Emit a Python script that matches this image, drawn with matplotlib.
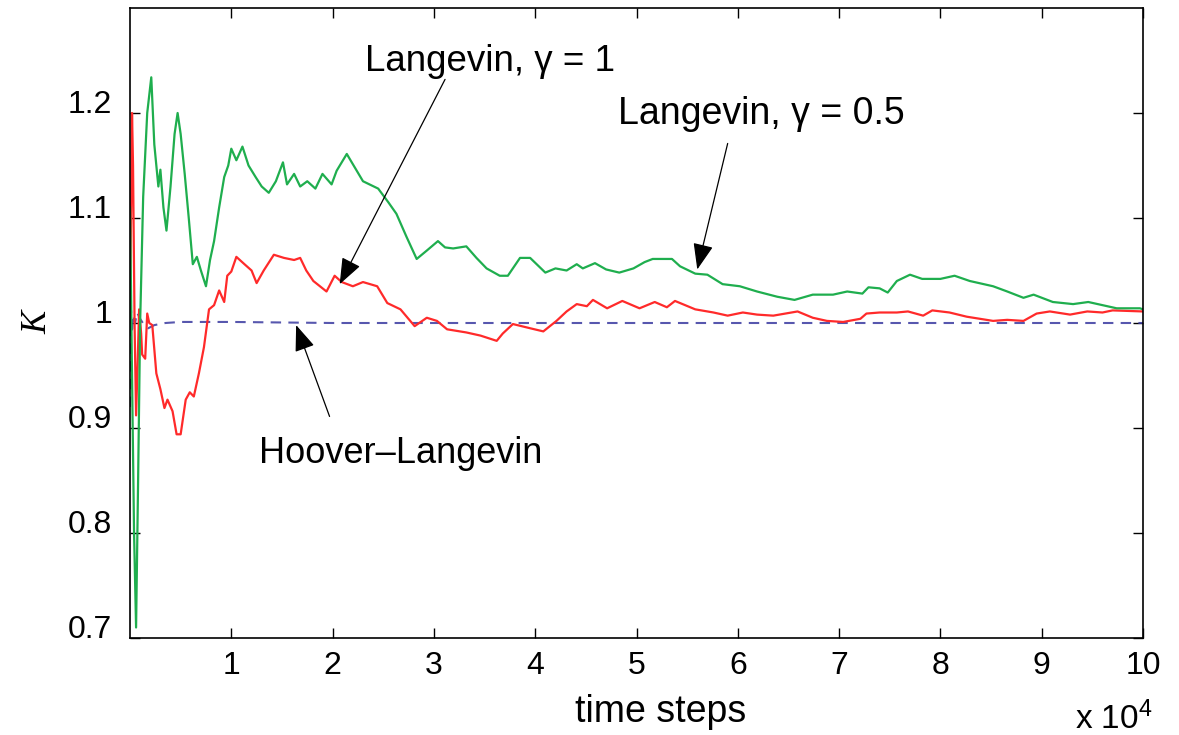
import matplotlib
matplotlib.use("Agg")
import matplotlib.pyplot as plt
import numpy as np

plt.rcParams['font.family'] = ['Liberation Sans', 'DejaVu Sans']
plt.rcParams['mathtext.default'] = 'regular'

# time steps in units of 1e4, kinetic temperature K
green_x = [0.00, 0.02, 0.04, 0.06, 0.08, 0.10, 0.13, 0.17, 0.21, 0.24, 0.26, 0.28, 0.30, 0.33,
           0.36, 0.40, 0.44, 0.47, 0.50, 0.54, 0.58, 0.62, 0.66, 0.70, 0.75, 0.79, 0.83, 0.88,
           0.93, 0.97, 1.00, 1.05, 1.11, 1.17, 1.24, 1.30, 1.37, 1.44, 1.51, 1.55, 1.62, 1.68,
           1.75, 1.83, 1.90, 1.99, 2.04, 2.14, 2.22, 2.30, 2.45, 2.55, 2.63, 2.73, 2.83, 2.93,
           3.04, 3.11, 3.19, 3.32, 3.42, 3.52, 3.65, 3.73, 3.85, 3.95, 4.10, 4.20, 4.31, 4.41,
           4.47, 4.59, 4.70, 4.83, 4.97, 5.08, 5.16, 5.35, 5.43, 5.58, 5.70, 5.85, 6.02, 6.19,
           6.39, 6.56, 6.74, 6.94, 7.08, 7.23, 7.29, 7.40, 7.48, 7.57, 7.70, 7.82, 8.00, 8.14,
           8.29, 8.52, 8.66, 8.82, 8.92, 9.11, 9.31, 9.46, 9.60, 9.74, 9.97, 10.0]
green_y = [1.110, 0.950, 0.800, 0.710, 0.850, 1.000, 1.120, 1.200, 1.234, 1.170, 1.150, 1.130,
           1.146, 1.110, 1.088, 1.130, 1.180, 1.200, 1.180, 1.142, 1.100, 1.056, 1.063, 1.050,
           1.035, 1.060, 1.078, 1.110, 1.139, 1.150, 1.166, 1.155, 1.168, 1.150, 1.139, 1.130,
           1.124, 1.135, 1.153, 1.132, 1.142, 1.130, 1.135, 1.128, 1.142, 1.132, 1.145, 1.161,
           1.148, 1.135, 1.128, 1.115, 1.104, 1.082, 1.061, 1.069, 1.078, 1.072, 1.071, 1.073,
           1.062, 1.052, 1.045, 1.045, 1.062, 1.062, 1.048, 1.052, 1.050, 1.056, 1.052, 1.057,
           1.051, 1.048, 1.052, 1.058, 1.061, 1.061, 1.054, 1.047, 1.046, 1.037, 1.035, 1.030,
           1.025, 1.022, 1.027, 1.027, 1.030, 1.028, 1.034, 1.033, 1.029, 1.040, 1.046, 1.042,
           1.042, 1.045, 1.040, 1.035, 1.030, 1.024, 1.027, 1.020, 1.018, 1.020, 1.017, 1.014,
           1.014, 1.013]

red_x = [0.00, 0.01, 0.02, 0.03, 0.045, 0.06, 0.075, 0.09, 0.11, 0.12, 0.15, 0.17, 0.19, 0.22,
         0.26, 0.30, 0.34, 0.37, 0.42, 0.46, 0.50, 0.55, 0.59, 0.63, 0.68, 0.73, 0.78, 0.83,
         0.88, 0.93, 0.96, 1.00, 1.05, 1.13, 1.20, 1.25, 1.32, 1.42, 1.52, 1.62, 1.68, 1.74,
         1.81, 1.94, 2.02, 2.09, 2.20, 2.30, 2.44, 2.54, 2.67, 2.81, 2.93, 3.03, 3.13, 3.32,
         3.46, 3.62, 3.68, 3.78, 3.95, 4.08, 4.21, 4.31, 4.41, 4.51, 4.57, 4.71, 4.86, 5.03,
         5.18, 5.30, 5.38, 5.58, 5.76, 5.90, 6.05, 6.19, 6.35, 6.59, 6.74, 6.88, 7.04, 7.21,
         7.27, 7.40, 7.57, 7.68, 7.83, 7.92, 8.09, 8.26, 8.52, 8.66, 8.82, 8.95, 9.08, 9.28,
         9.45, 9.60, 9.70, 10.0]
red_y = [1.000, 1.100, 1.200, 1.150, 1.000, 0.912, 0.960, 1.013, 0.990, 0.970, 0.966, 1.009,
         1.000, 0.998, 0.952, 0.937, 0.919, 0.927, 0.916, 0.894, 0.894, 0.927, 0.934, 0.930,
         0.952, 0.977, 1.013, 1.017, 1.031, 1.020, 1.045, 1.049, 1.063, 1.056, 1.050, 1.038,
         1.050, 1.065, 1.062, 1.060, 1.062, 1.050, 1.040, 1.030, 1.045, 1.039, 1.035, 1.039,
         1.035, 1.019, 1.013, 0.997, 1.005, 1.002, 0.994, 0.991, 0.988, 0.983, 0.990, 0.999,
         0.995, 0.992, 1.002, 1.011, 1.018, 1.016, 1.022, 1.014, 1.021, 1.014, 1.020, 1.015,
         1.021, 1.013, 1.010, 1.007, 1.010, 1.008, 1.007, 1.011, 1.005, 1.002, 1.001, 1.004,
         1.009, 1.010, 1.010, 1.011, 1.007, 1.012, 1.010, 1.006, 1.002, 1.003, 1.002, 1.009,
         1.011, 1.008, 1.011, 1.010, 1.012, 1.011]

blue_x = [0.00, 0.01, 0.02, 0.03, 0.05, 0.07, 0.10, 0.14, 0.18, 0.24, 0.35, 0.50, 1.00, 2.00, 10.0]
blue_y = [0.920, 1.012, 0.990, 1.008, 1.000, 1.010, 1.004, 0.998, 0.995, 0.998, 1.000, 1.001,
          1.001, 1.000, 1.000]

x_ticks = [1, 2, 3, 4, 5, 6, 7, 8, 9, 10]
y_ticks = [0.7, 0.8, 0.9, 1.0, 1.1, 1.2]
y_tick_labels = ["0.7", "0.8", "0.9", "1", "1.1", "1.2"]

fig = plt.figure(figsize=(11.79, 7.35), dpi=100)
ax = fig.add_axes([130 / 1179, 97 / 735, 1013 / 1179, 630 / 735])

ax.plot(blue_x, blue_y, color='#3a3aa0', linewidth=1.5, dashes=(5, 3.5), alpha=0.85)
ax.plot(red_x, red_y, color='#ff2a2a', linewidth=1.6)
ax.plot(green_x, green_y, color='#1fae4e', linewidth=1.6)

ax.set_xlim(0, 10)
ax.set_ylim(0.7, 1.3)
ax.set_xticks(x_ticks)
ax.set_xticklabels([str(t) for t in x_ticks])
ax.set_yticks(y_ticks)
ax.set_yticklabels(y_tick_labels)
ax.tick_params(direction='in', length=7, width=1, top=True, right=True, labelsize=23)
ax.tick_params(axis='x', pad=9)
ax.tick_params(axis='y', pad=13)
for lab in ax.get_yticklabels():
    lab.set_verticalalignment('baseline')
for sp in ax.spines.values():
    sp.set_linewidth(1.2)

arrow = dict(arrowstyle='-|>,head_length=0.9,head_width=0.35', color='black',
             lw=0.9, shrinkA=0, shrinkB=0, mutation_scale=18)
ax.annotate('', xy=(2.07, 1.037), xytext=(3.11, 1.232), arrowprops=arrow)
ax.annotate('', xy=(5.60, 1.051), xytext=(5.90, 1.171), arrowprops=arrow)
ax.annotate('', xy=(1.64, 0.998), xytext=(1.97, 0.911), arrowprops=arrow)

ax.text(3.55, 1.2495, 'Langevin, γ = 1', fontsize=26.5, ha='center', va='center')
ax.text(6.23, 1.199, 'Langevin, γ = 0.5', fontsize=27, ha='center', va='center')
ax.text(2.67, 0.876, 'Hoover–Langevin', fontsize=26, ha='center', va='center')

fig.text(661 / 1179, 1 - 712 / 735, 'time steps', fontsize=27, ha='center', va='center')
fig.text(1153 / 1179, 1 - 719 / 735, 'x 10$^4$', fontsize=24, ha='right', va='center')
fig.text(38 / 1179, 1 - 322 / 735, 'K', fontsize=25, family='Liberation Serif',
         style='italic', rotation=90, ha='center', va='center')

fig.savefig('out.png', dpi=100)
